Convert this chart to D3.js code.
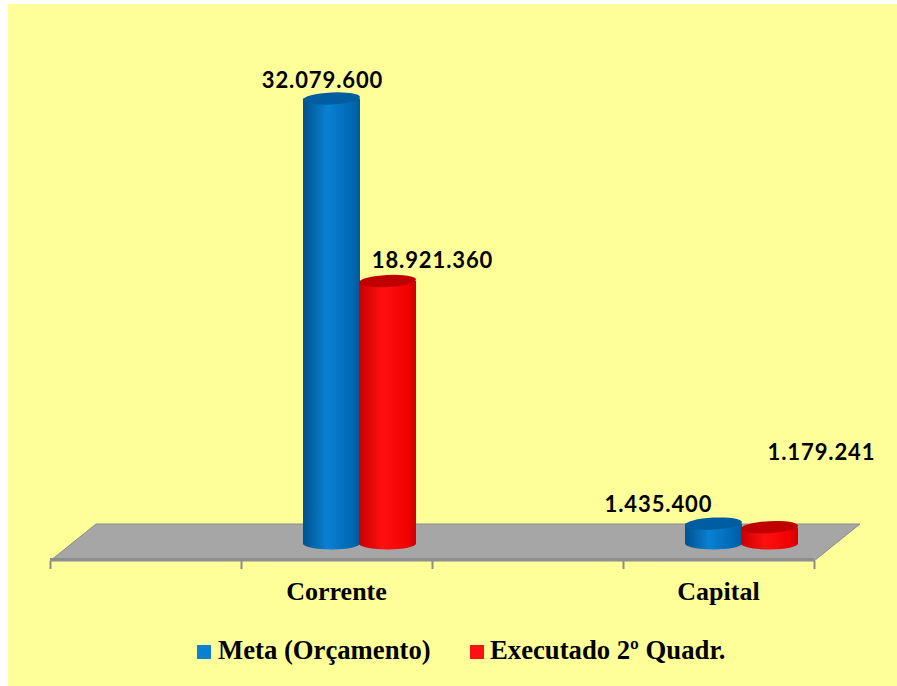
<!DOCTYPE html>
<html>
<head>
<meta charset="utf-8">
<script src="https://cdn.jsdelivr.net/npm/d3@7"></script>
<style>
  body { margin: 0; background: #fff; }
  svg { display: block; }
</style>
</head>
<body>
<svg id="chart"></svg>
<script>
// category slots along the floor (two are empty in the original chart)
var slots = ["", "Corrente", "", "Capital"];
var series = ["Meta (Orçamento)", "Executado 2º Quadr."];
var meta = [0, 32079600, 0, 1435400];
var executado = [0, 18921360, 0, 1179241];
var seriesValues = [meta, executado];
// hand-placed data labels, [dx, dy] from the top of each cylinder
var labelOffsets = [
    [null, [-9, -11], null, [-55, -12]],
    [null, [45, -13], null, [52, -67]]
];

width = 897;
height = 686;

colors = [
    {side: ["#00528f", "#0a80d2", "#0068b4", "#005a9c"], top: "#005d9f"},
    {side: ["#c80000", "#ff1010", "#f20000", "#d00000"], top: "#c00000"}
];

fmt = function(v) {
    return d3.format(",")(v).replace(/,/g, ".");
};

svg = d3.select("#chart")
    .attr("width", width)
    .attr("height", height);

svg.append("rect")
    .attr("x", 8).attr("y", 4)
    .attr("width", width - 8).attr("height", height - 4)
    .attr("fill", "#ffff99");

// floor geometry
floorFront = 561;
depth = {dx: 46, dy: -37};

x = d3.scaleBand()
    .domain(d3.range(slots.length))
    .range([50, 814])
    .padding(0);

edge = d3.scaleLinear()
    .domain([0, slots.length])
    .range([50, 814]);

y = d3.scaleLinear()
    .domain([0, d3.max(meta)])
    .range([0, 445]);

inner = d3.scaleBand()
    .domain(d3.range(series.length))
    .range([-56, 56]);

defs = svg.append("defs");
colors.forEach(function(c, i) {
    g = defs.append("linearGradient")
        .attr("id", "cyl" + i)
        .attr("x1", "0%").attr("x2", "100%");
    [0, 0.42, 0.85, 1].forEach(function(o, j) {
        g.append("stop").attr("offset", o).attr("stop-color", c.side[j]);
    });
});

// floor
floor = [
    [edge(0), floorFront],
    [edge(slots.length), floorFront],
    [edge(slots.length) + depth.dx, floorFront + depth.dy],
    [edge(0) + depth.dx, floorFront + depth.dy]
];
svg.append("path")
    .attr("d", d3.line()(floor) + "Z")
    .attr("fill", "#a6a6a6")
    .attr("stroke", "#8c8c8c")
    .attr("stroke-width", 1);
svg.append("rect")
    .attr("x", edge(0)).attr("y", floorFront - 3)
    .attr("width", edge(slots.length) - edge(0)).attr("height", 3)
    .attr("fill", "#8e8e8e");

// ticks on the front edge
svg.append("g")
    .attr("transform", "translate(0," + floorFront + ")")
    .call(
        d3.axisBottom(edge)
            .tickValues(d3.range(slots.length + 1))
            .tickSize(8)
            .tickFormat("")
    )
    .call(function(g) {
        g.select(".domain").remove();
        g.selectAll(".tick line").attr("stroke", "#8c8c8c").attr("stroke-width", 2);
    });

// category labels
svg.append("g")
    .attr("transform", "translate(0," + floorFront + ")")
    .call(d3.axisBottom(x).tickSize(0).tickFormat(function(i) { return slots[i]; }))
    .call(function(g) {
        g.select(".domain").remove();
        g.selectAll("text")
            .attr("y", 39)
            .attr("dy", 0)
            .attr("fill", "#000")
            .attr("font-family", "Liberation Serif, Times New Roman, serif")
            .attr("font-weight", "bold")
            .attr("font-size", 26);
    });

// cylinders stand half way into the floor depth
baseY = floorFront + depth.dy / 2 + 1;
ry = 6;
barW = 57;

bars = [];
seriesValues.forEach(function(vals, s) {
    vals.forEach(function(v, i) {
        if (!v) return;
        cx = x(i) + x.bandwidth() / 2 + depth.dx / 2 + inner(s) + inner.bandwidth() / 2;
        bars.push({s: s, i: i, v: v, cx: cx, top: baseY - y(v)});
    });
});

cyl = svg.append("g").selectAll("g")
    .data(bars)
    .join("g");

cyl.append("path")
    .attr("d", function(d) {
        l = d.cx - barW / 2;
        r = d.cx + barW / 2;
        return "M" + l + "," + d.top
            + "L" + l + "," + baseY
            + "A" + (barW / 2) + "," + ry + " 0 0 0 " + r + "," + baseY
            + "L" + r + "," + d.top + "Z";
    })
    .attr("fill", function(d) { return "url(#cyl" + d.s + ")"; });

cyl.append("ellipse")
    .attr("cx", function(d) { return d.cx; })
    .attr("cy", function(d) { return d.top; })
    .attr("rx", barW / 2)
    .attr("ry", ry)
    .attr("transform", function(d) { return "rotate(-3," + d.cx + "," + d.top + ")"; })
    .attr("fill", function(d) { return colors[d.s].top; });

// data labels
svg.append("g").selectAll("text")
    .data(bars)
    .join("text")
    .attr("x", function(d) { return d.cx + labelOffsets[d.s][d.i][0]; })
    .attr("y", function(d) { return d.top + labelOffsets[d.s][d.i][1]; })
    .attr("text-anchor", "middle")
    .attr("font-family", "Lato, Open Sans, sans-serif")
    .attr("font-weight", "bold")
    .attr("font-size", 22)
    .attr("letter-spacing", 0.9)
    .attr("fill", "#000")
    .text(function(d) { return fmt(d.v); });

// legend
legendX = [197, 470];
legend = svg.append("g").selectAll("g")
    .data(series)
    .join("g")
    .attr("transform", function(d, i) { return "translate(" + legendX[i] + ",645)"; });
legend.append("rect")
    .attr("width", 14).attr("height", 14)
    .attr("fill", function(d, i) { return colors[i].side[1]; });
legend.append("text")
    .attr("x", function(d, i) { return i == 0 ? 21 : 20; })
    .attr("y", 14)
    .attr("font-family", "Liberation Serif, Times New Roman, serif")
    .attr("font-weight", "bold")
    .attr("font-size", 26.7)
    .attr("fill", "#000")
    .text(function(d) { return d; });
</script>
</body>
</html>
